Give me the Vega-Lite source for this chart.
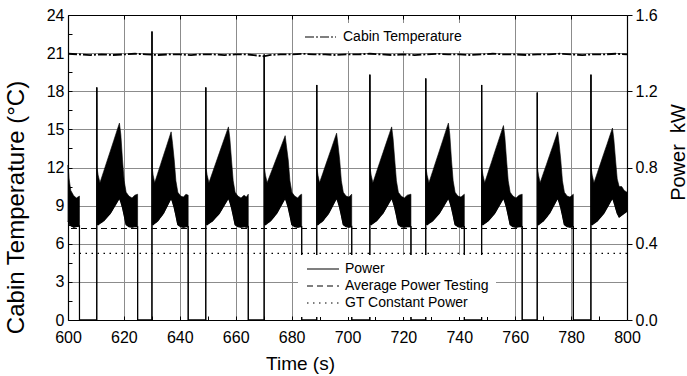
{
  "$schema": "https://vega.github.io/schema/vega-lite/v6.json",
  "width": 559,
  "height": 305,
  "autosize": {"type": "none"},
  "padding": {"left": 68, "top": 15, "right": 60, "bottom": 56},
  "background": "white",
  "config": {
    "font": "Liberation Sans",
    "view": {"stroke": null},
    "axis": {
      "labelFont": "Liberation Sans", "labelFontSize": 16, "labelColor": "black",
      "titleFont": "Liberation Sans", "titleFontWeight": "normal", "titleColor": "black",
      "domainColor": "black", "domainWidth": 1.2, "tickColor": "black", "tickWidth": 1,
      "gridColor": "#8c8c8c", "gridWidth": 1, "labelOverlap": false, "labelFlush": false
    },
    "legend": {"labelFont": "Liberation Sans", "labelFontSize": 14, "labelColor": "black"}
  },
  "datasets": {
    "temp": [
      {"t":600,"temp":20.95},{"t":604,"temp":20.9},{"t":608,"temp":20.85},{"t":612,"temp":20.9},{"t":616,"temp":20.85},
      {"t":620,"temp":20.9},{"t":624,"temp":20.95},{"t":628,"temp":20.9},{"t":632,"temp":20.85},{"t":636,"temp":20.9},
      {"t":640,"temp":20.9},{"t":644,"temp":20.85},{"t":648,"temp":20.9},{"t":652,"temp":20.9},{"t":656,"temp":20.85},
      {"t":660,"temp":20.9},{"t":664,"temp":20.9},{"t":668,"temp":20.8},{"t":670,"temp":20.75},{"t":672,"temp":20.85},
      {"t":676,"temp":20.9},{"t":680,"temp":20.9},{"t":684,"temp":20.95},{"t":688,"temp":20.9},{"t":692,"temp":20.9},
      {"t":696,"temp":20.85},{"t":700,"temp":20.9},{"t":704,"temp":20.9},{"t":708,"temp":20.95},{"t":712,"temp":20.9},
      {"t":716,"temp":20.85},{"t":720,"temp":20.9},{"t":724,"temp":20.85},{"t":728,"temp":20.9},{"t":732,"temp":20.95},
      {"t":736,"temp":20.9},{"t":740,"temp":20.9},{"t":744,"temp":20.85},{"t":748,"temp":20.9},{"t":752,"temp":20.95},
      {"t":756,"temp":20.9},{"t":760,"temp":20.9},{"t":764,"temp":20.85},{"t":768,"temp":20.9},{"t":772,"temp":20.9},
      {"t":776,"temp":20.95},{"t":780,"temp":20.9},{"t":784,"temp":20.85},{"t":788,"temp":20.9},{"t":792,"temp":20.9},
      {"t":796,"temp":20.95},{"t":800,"temp":20.9}
    ],
    "power": [
      {"t":600,"lo":0.52,"hi":0.813},{"t":600.4,"lo":0.507,"hi":0.74},{"t":601,"lo":0.495,"hi":0.68},{"t":602,"lo":0.487,"hi":0.653},{"t":603,"lo":0.49,"hi":0.64},{"t":604.1,"lo":0.493,"hi":0.65},{"t":604.11,"lo":0,"hi":0},
      {"t":610.28,"lo":0,"hi":0},{"t":610.3,"lo":1.22,"hi":1.22},{"t":610.36,"lo":0.507,"hi":0.8},{"t":610.79,"lo":0.5,"hi":0.76},{"t":611.43,"lo":0.507,"hi":0.72},{"t":612.73,"lo":0.52,"hi":0.778},{"t":613.95,"lo":0.54,"hi":0.833},{"t":615.16,"lo":0.56,"hi":0.887},{"t":616.38,"lo":0.59,"hi":0.942},{"t":617.59,"lo":0.62,"hi":0.997},{"t":618.4,"lo":0.64,"hi":1.033},{"t":618.9,"lo":0.62,"hi":0.973},{"t":619.5,"lo":0.59,"hi":0.84},{"t":620.1,"lo":0.55,"hi":0.73},{"t":620.8,"lo":0.5,"hi":0.67},{"t":621.8,"lo":0.49,"hi":0.65},{"t":622.9,"lo":0.487,"hi":0.64},{"t":623.9,"lo":0.49,"hi":0.655},{"t":624.9,"lo":0.49,"hi":0.66},{"t":624.91,"lo":0,"hi":0},
      {"t":630.03,"lo":0,"hi":0},{"t":630.05,"lo":1.513,"hi":1.513},{"t":630.11,"lo":0.507,"hi":0.8},{"t":630.46,"lo":0.5,"hi":0.76},{"t":631.01,"lo":0.507,"hi":0.72},{"t":632.11,"lo":0.52,"hi":0.77},{"t":633.13,"lo":0.54,"hi":0.816},{"t":634.16,"lo":0.56,"hi":0.863},{"t":635.19,"lo":0.59,"hi":0.909},{"t":636.22,"lo":0.62,"hi":0.956},{"t":636.9,"lo":0.64,"hi":0.987},{"t":637.4,"lo":0.62,"hi":0.927},{"t":638,"lo":0.59,"hi":0.84},{"t":638.6,"lo":0.55,"hi":0.73},{"t":639.3,"lo":0.5,"hi":0.67},{"t":640.3,"lo":0.49,"hi":0.65},{"t":641.3,"lo":0.487,"hi":0.645},{"t":642.2,"lo":0.49,"hi":0.66},{"t":643,"lo":0.49,"hi":0.655},{"t":643.01,"lo":0,"hi":0},
      {"t":649.28,"lo":0,"hi":0},{"t":649.3,"lo":1.22,"hi":1.22},{"t":649.36,"lo":0.507,"hi":0.8},{"t":649.79,"lo":0.5,"hi":0.76},{"t":650.43,"lo":0.507,"hi":0.72},{"t":651.73,"lo":0.52,"hi":0.775},{"t":652.95,"lo":0.54,"hi":0.826},{"t":654.16,"lo":0.56,"hi":0.877},{"t":655.38,"lo":0.59,"hi":0.928},{"t":656.59,"lo":0.62,"hi":0.979},{"t":657.4,"lo":0.64,"hi":1.013},{"t":657.9,"lo":0.62,"hi":0.953},{"t":658.5,"lo":0.59,"hi":0.84},{"t":659.1,"lo":0.55,"hi":0.73},{"t":659.8,"lo":0.5,"hi":0.67},{"t":660.8,"lo":0.49,"hi":0.65},{"t":661.9,"lo":0.487,"hi":0.64},{"t":663,"lo":0.49,"hi":0.655},{"t":663.8,"lo":0.487,"hi":0.645},{"t":664.5,"lo":0.49,"hi":0.66},{"t":664.51,"lo":0,"hi":0},
      {"t":670.18,"lo":0,"hi":0},{"t":670.2,"lo":1.393,"hi":1.393},{"t":670.26,"lo":0.507,"hi":0.8},{"t":670.65,"lo":0.5,"hi":0.76},{"t":671.25,"lo":0.507,"hi":0.72},{"t":672.45,"lo":0.52,"hi":0.766},{"t":673.58,"lo":0.54,"hi":0.809},{"t":674.7,"lo":0.56,"hi":0.852},{"t":675.83,"lo":0.59,"hi":0.895},{"t":676.95,"lo":0.62,"hi":0.938},{"t":677.7,"lo":0.64,"hi":0.967},{"t":678.2,"lo":0.62,"hi":0.907},{"t":678.8,"lo":0.59,"hi":0.84},{"t":679.4,"lo":0.55,"hi":0.73},{"t":680.1,"lo":0.5,"hi":0.67},{"t":681.1,"lo":0.49,"hi":0.65},{"t":682.2,"lo":0.487,"hi":0.64},{"t":683,"lo":0.49,"hi":0.655},{"t":683.6,"lo":0.49,"hi":0.66},{"t":683.61,"lo":0,"hi":0},
      {"t":688.98,"lo":0,"hi":0},{"t":689,"lo":1.233,"hi":1.233},{"t":689.06,"lo":0.507,"hi":0.8},{"t":689.43,"lo":0.5,"hi":0.76},{"t":689.99,"lo":0.507,"hi":0.72},{"t":691.13,"lo":0.52,"hi":0.768},{"t":692.2,"lo":0.54,"hi":0.814},{"t":693.26,"lo":0.56,"hi":0.859},{"t":694.33,"lo":0.59,"hi":0.904},{"t":695.39,"lo":0.62,"hi":0.95},{"t":696.1,"lo":0.64,"hi":0.98},{"t":696.6,"lo":0.62,"hi":0.92},{"t":697.2,"lo":0.59,"hi":0.84},{"t":697.8,"lo":0.55,"hi":0.73},{"t":698.5,"lo":0.5,"hi":0.67},{"t":699.5,"lo":0.49,"hi":0.65},{"t":700.5,"lo":0.487,"hi":0.645},{"t":701.5,"lo":0.49,"hi":0.66},{"t":701.51,"lo":0,"hi":0},
      {"t":707.98,"lo":0,"hi":0},{"t":708,"lo":1.287,"hi":1.287},{"t":708.06,"lo":0.507,"hi":0.8},{"t":708.47,"lo":0.5,"hi":0.76},{"t":709.09,"lo":0.507,"hi":0.72},{"t":710.34,"lo":0.52,"hi":0.775},{"t":711.51,"lo":0.54,"hi":0.826},{"t":712.68,"lo":0.56,"hi":0.877},{"t":713.85,"lo":0.59,"hi":0.928},{"t":715.02,"lo":0.62,"hi":0.979},{"t":715.8,"lo":0.64,"hi":1.013},{"t":716.3,"lo":0.62,"hi":0.953},{"t":716.9,"lo":0.59,"hi":0.84},{"t":717.5,"lo":0.55,"hi":0.73},{"t":718.2,"lo":0.5,"hi":0.67},{"t":719.2,"lo":0.49,"hi":0.65},{"t":720.3,"lo":0.487,"hi":0.64},{"t":721.4,"lo":0.49,"hi":0.655},{"t":722.7,"lo":0.49,"hi":0.66},{"t":722.71,"lo":0,"hi":0},
      {"t":727.98,"lo":0,"hi":0},{"t":728,"lo":1.267,"hi":1.267},{"t":728.06,"lo":0.507,"hi":0.8},{"t":728.49,"lo":0.5,"hi":0.76},{"t":729.13,"lo":0.507,"hi":0.72},{"t":730.43,"lo":0.52,"hi":0.778},{"t":731.65,"lo":0.54,"hi":0.833},{"t":732.86,"lo":0.56,"hi":0.887},{"t":734.08,"lo":0.59,"hi":0.942},{"t":735.29,"lo":0.62,"hi":0.997},{"t":736.1,"lo":0.64,"hi":1.033},{"t":736.6,"lo":0.62,"hi":0.973},{"t":737.2,"lo":0.59,"hi":0.84},{"t":737.8,"lo":0.55,"hi":0.73},{"t":738.5,"lo":0.5,"hi":0.67},{"t":739.5,"lo":0.49,"hi":0.65},{"t":740.6,"lo":0.487,"hi":0.645},{"t":741.8,"lo":0.49,"hi":0.66},{"t":741.81,"lo":0,"hi":0},
      {"t":747.98,"lo":0,"hi":0},{"t":748,"lo":1.233,"hi":1.233},{"t":748.06,"lo":0.507,"hi":0.8},{"t":748.47,"lo":0.5,"hi":0.76},{"t":749.09,"lo":0.507,"hi":0.72},{"t":750.34,"lo":0.52,"hi":0.776},{"t":751.51,"lo":0.54,"hi":0.828},{"t":752.68,"lo":0.56,"hi":0.881},{"t":753.85,"lo":0.59,"hi":0.933},{"t":755.02,"lo":0.62,"hi":0.985},{"t":755.8,"lo":0.64,"hi":1.02},{"t":756.3,"lo":0.62,"hi":0.96},{"t":756.9,"lo":0.59,"hi":0.84},{"t":757.5,"lo":0.55,"hi":0.73},{"t":758.2,"lo":0.5,"hi":0.67},{"t":759.2,"lo":0.49,"hi":0.65},{"t":760.3,"lo":0.487,"hi":0.64},{"t":761.4,"lo":0.49,"hi":0.655},{"t":762.5,"lo":0.49,"hi":0.66},{"t":762.51,"lo":0,"hi":0},
      {"t":767.88,"lo":0,"hi":0},{"t":767.9,"lo":1.193,"hi":1.193},{"t":767.96,"lo":0.507,"hi":0.8},{"t":768.34,"lo":0.5,"hi":0.76},{"t":768.92,"lo":0.507,"hi":0.72},{"t":770.09,"lo":0.52,"hi":0.77},{"t":771.19,"lo":0.54,"hi":0.816},{"t":772.28,"lo":0.56,"hi":0.863},{"t":773.38,"lo":0.59,"hi":0.909},{"t":774.47,"lo":0.62,"hi":0.956},{"t":775.2,"lo":0.64,"hi":0.987},{"t":775.7,"lo":0.62,"hi":0.927},{"t":776.3,"lo":0.59,"hi":0.84},{"t":776.9,"lo":0.55,"hi":0.73},{"t":777.6,"lo":0.5,"hi":0.67},{"t":778.6,"lo":0.49,"hi":0.65},{"t":779.6,"lo":0.487,"hi":0.645},{"t":780.8,"lo":0.49,"hi":0.66},{"t":780.81,"lo":0,"hi":0},
      {"t":787.08,"lo":0,"hi":0},{"t":787.1,"lo":1.287,"hi":1.287},{"t":787.16,"lo":0.507,"hi":0.8},{"t":787.56,"lo":0.5,"hi":0.76},{"t":788.18,"lo":0.507,"hi":0.72},{"t":789.41,"lo":0.52,"hi":0.773},{"t":790.57,"lo":0.54,"hi":0.823},{"t":791.72,"lo":0.56,"hi":0.874},{"t":792.88,"lo":0.59,"hi":0.923},{"t":794.03,"lo":0.62,"hi":0.974},{"t":794.8,"lo":0.64,"hi":1.007},{"t":795.3,"lo":0.62,"hi":0.947},{"t":795.9,"lo":0.59,"hi":0.84},{"t":796.5,"lo":0.56,"hi":0.74},{"t":797.2,"lo":0.54,"hi":0.7},{"t":798.1,"lo":0.55,"hi":0.7},{"t":799,"lo":0.56,"hi":0.68},{"t":800,"lo":0.57,"hi":0.67}
    ],
    "ref": [
      {"series":"Average Power Testing","kW":0.48},
      {"series":"GT Constant Power","kW":0.35}
    ]
  },
  "resolve": {"scale": {"y": "independent", "strokeDash": "independent"}, "axis": {"x": "independent"}},
  "layer": [
    {
      "data": {"name": "temp"},
      "mark": {"type": "line", "color": "black", "strokeWidth": 1.8},
      "encoding": {
        "x": {
          "field": "t", "type": "quantitative",
          "scale": {"domain": [600, 800], "nice": false},
          "axis": {
            "orient": "bottom", "title": "Time (s)",
            "values": [600,610,620,630,640,650,660,670,680,690,700,710,720,730,740,750,760,770,780,790,800],
            "labelExpr": "datum.value % 20 == 0 ? format(datum.value, 'd') : ''",
            "tickSize": -4, "labelPadding": 13, "grid": true,
            "gridOpacity": {"condition": {"test": "datum.value % 20 != 0 || datum.value == 600 || datum.value == 800", "value": 0}, "value": 1},
            "titleFontSize": 19, "titleX": 232, "titleY": 49, "titleBaseline": "alphabetic", "titleAlign": "center"
          }
        },
        "y": {
          "field": "temp", "type": "quantitative",
          "scale": {"domain": [0, 24], "nice": false},
          "axis": {
            "orient": "left", "title": "Cabin Temperature (°C)",
            "values": [0,1.5,3,4.5,6,7.5,9,10.5,12,13.5,15,16.5,18,19.5,21,22.5,24],
            "labelExpr": "datum.value % 3 == 0 ? format(datum.value, 'd') : ''",
            "tickSize": -4, "labelPadding": 8, "grid": true,
            "gridOpacity": {"condition": {"test": "datum.value % 3 != 0 || datum.value == 0 || datum.value == 24", "value": 0}, "value": 1},
            "titleFontSize": 24, "titleAngle": 270, "titleX": -44.5, "titleY": 192, "titleBaseline": "alphabetic", "titleAlign": "center"
          }
        },
        "strokeDash": {
          "datum": "Cabin Temperature",
          "scale": {"domain": ["Cabin Temperature"], "range": [[9, 2, 2, 2]]},
          "legend": {
            "orient": "none", "legendX": 228, "legendY": 8, "title": null,
            "symbolType": "M-1,0H5.2", "symbolSize": 100, "symbolStrokeWidth": 1.2, "symbolStrokeColor": "black",
            "symbolDash": [5, 3, 1.5, 3],
            "labelOffset": 26, "padding": 7, "fillColor": "white", "zindex": 2, "labelFontSize": 14
          }
        }
      }
    },
    {
      "layer": [
        {
          "data": {"name": "power"},
          "mark": {"type": "area", "color": "black", "stroke": "black", "strokeWidth": 0.6, "interpolate": "linear"},
          "encoding": {
            "x": {
              "field": "t", "type": "quantitative",
              "scale": {"domain": [600, 800], "nice": false},
              "axis": {
                "orient": "top", "title": null, "labels": false, "grid": false, "tickSize": -4,
                "values": [600,610,620,630,640,650,660,670,680,690,700,710,720,730,740,750,760,770,780,790,800]
              }
            },
            "y": {
              "field": "lo", "type": "quantitative", "title": "Power\u00a0\u00a0kW",
              "scale": {"domain": [0, 1.6], "nice": false},
              "axis": {
                "orient": "right", "grid": false,
                "values": [0,0.1,0.2,0.3,0.4,0.5,0.6,0.7,0.8,0.9,1,1.1,1.2,1.3,1.4,1.5,1.6],
                "labelExpr": "round(datum.value * 10) % 2 == 0 ? format(datum.value, '.1f') : ''",
                "tickSize": 5, "labelPadding": 3,
                "titleFontSize": 20, "titleAngle": 270, "titleX": 57, "titleY": 137, "titleBaseline": "alphabetic", "titleAlign": "center"
              }
            },
            "y2": {"field": "hi"}
          }
        },
        {
          "data": {"name": "power"},
          "mark": {"type": "line", "color": "black", "strokeWidth": 1.2},
          "encoding": {
            "x": {"field": "t", "type": "quantitative"},
            "y": {"field": "lo", "type": "quantitative", "title": "Power\u00a0\u00a0kW"},
            "strokeDash": {
              "datum": "Power",
              "title": null,
              "scale": {"domain": ["Power", "Average Power Testing", "GT Constant Power"], "range": [[1, 0], [6, 4], [1.5, 4.5]]},
              "legend": {
                "orient": "none", "legendX": 230, "legendY": 240, "title": null,
                "symbolType": "M-1,0H5.4", "symbolSize": 100, "symbolStrokeWidth": 1.2, "symbolStrokeColor": "black",
                "labelOffset": 26, "padding": 7, "rowPadding": 3, "fillColor": "white", "zindex": 2, "labelFontSize": 14
              }
            }
          }
        },
        {
          "data": {"name": "ref"},
          "mark": {"type": "rule", "color": "black", "strokeWidth": 1.2},
          "encoding": {
            "y": {"field": "kW", "type": "quantitative", "title": "Power\u00a0\u00a0kW"},
            "strokeDash": {
              "field": "series", "type": "nominal", "title": null,
              "legend": {
                "orient": "none", "legendX": 230, "legendY": 240, "title": null,
                "symbolType": "M-1,0H5.4", "symbolSize": 100, "symbolStrokeWidth": 1.2, "symbolStrokeColor": "black",
                "labelOffset": 26, "padding": 7, "rowPadding": 3, "fillColor": "white", "zindex": 2, "labelFontSize": 14
              }
            }
          }
        }
      ]
    }
  ]
}
